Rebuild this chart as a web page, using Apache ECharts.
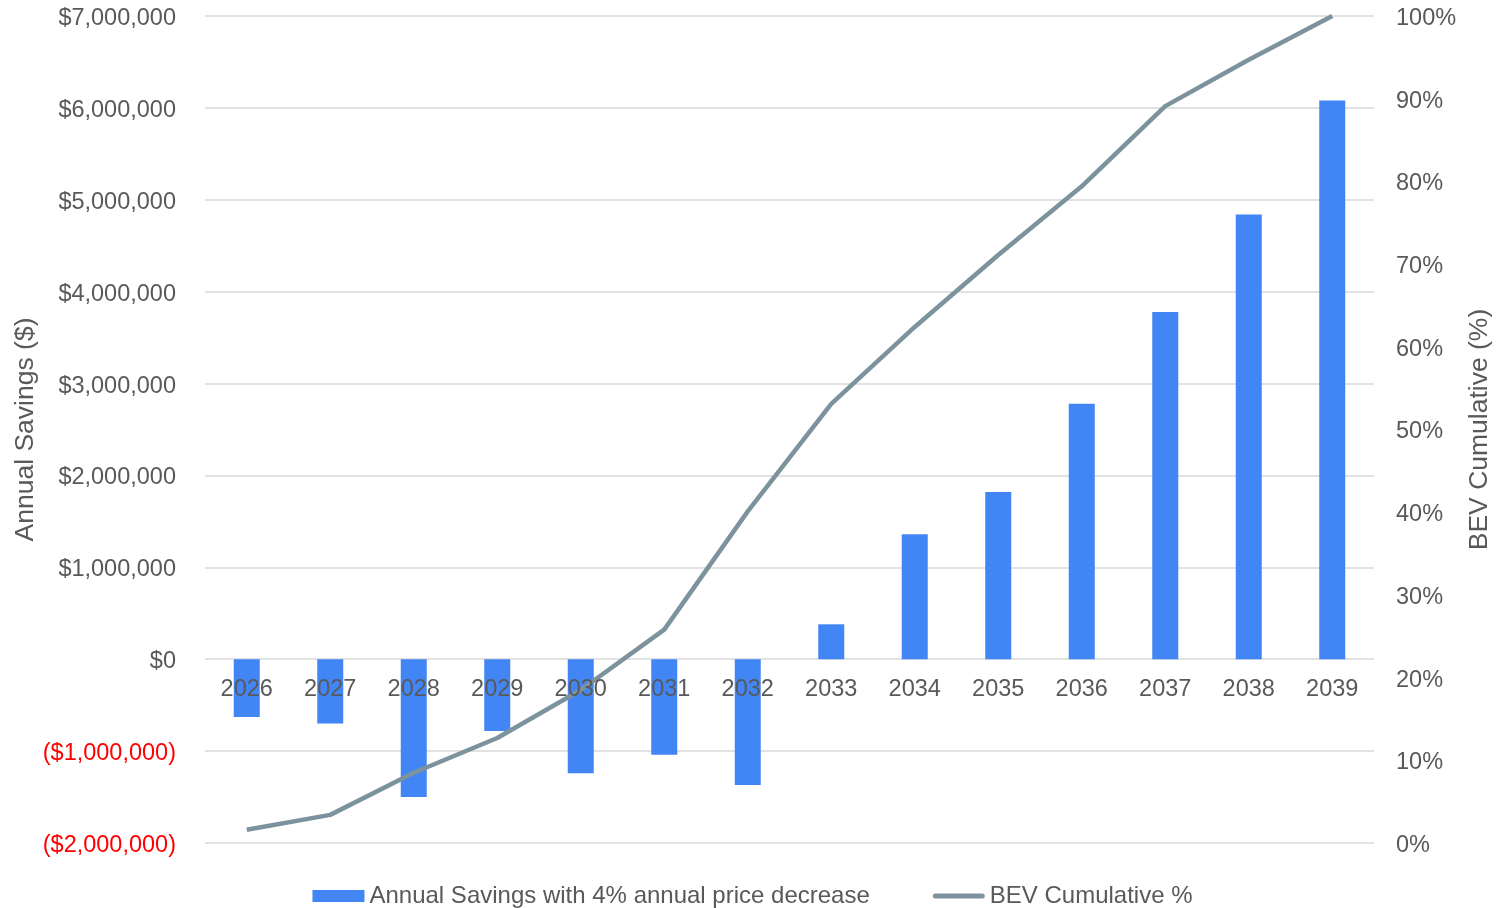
<!DOCTYPE html>
<html><head><meta charset="utf-8">
<script src="https://cdn.jsdelivr.net/npm/echarts@6/dist/echarts.min.js"></script>
<style>html,body{margin:0;padding:0;background:#fff}#c{width:1505px;height:908px}</style>
</head><body><div id="c"></div>
<script>
const years = ['2026','2027','2028','2029','2030','2031','2032','2033','2034','2035','2036','2037','2038','2039'];
const annualSavings = [-630000,-700000,-1500000,-780000,-1240000,-1040000,-1370000,380000,1360000,1820000,2780000,3780000,4840000,6080000];
const bevCumulative = [1.6,3.4,8.5,12.7,18.5,25.8,40.1,53.1,62.4,71.1,79.4,89.1,94.7,100];
const barName = 'Annual Savings with 4% annual price decrease';
const lineName = 'BEV Cumulative %';

const font = 'Liberation Sans, Arial, sans-serif';
const grey = '#595959';
function money(v){
  const s = '$' + Math.abs(v).toLocaleString('en-US');
  return v < 0 ? '(' + s + ')' : s;
}
const chart = echarts.init(document.getElementById('c'), null, {renderer:'canvas'});
chart.setOption({
  animation:false,
  textStyle:{fontFamily:font},
  grid:{left:205,right:131,top:16,bottom:65,containLabel:false,outerBoundsMode:'none'},
  legend:{
    top:879, left:'center',
    itemWidth:52, itemHeight:12, itemGap:63,
    textStyle:{color:grey,fontSize:24,fontFamily:font,padding:[0,0,0,0]},
    data:[{name:barName,icon:'rect'},
          {name:lineName,icon:'path://M2.5,0 L49.5,0 A2.5,2.5 0 0 1 49.5,5 L2.5,5 A2.5,2.5 0 0 1 2.5,0 Z'}]
  },
  xAxis:{
    type:'category', data:years, z:10, offset:-184,
    axisLine:{show:false,onZero:false},
    axisTick:{show:false},
    axisLabel:{color:grey,fontSize:23.5,fontFamily:font,margin:19}
  },
  yAxis:[{
    type:'value', min:-2000000, max:7000000, interval:1000000,
    name:'Annual Savings ($)', nameLocation:'middle', nameGap:166, nameRotate:90, nameMoveOverlap:false,
    nameTextStyle:{color:grey,fontSize:26.5,fontFamily:font},
    axisLine:{show:false,onZero:false}, axisTick:{show:false},
    splitLine:{lineStyle:{color:'#d9d9d9',width:1.5}},
    axisLabel:{fontSize:23.5,fontFamily:font,margin:29,formatter:money,verticalAlign:'top',lineHeight:5,
      color:function(v){return Number(v) < 0 ? '#ff0000' : grey;}}
  },{
    type:'value', min:0, max:100, interval:10, position:'right',
    name:'BEV Cumulative (%)', nameLocation:'middle', nameGap:92, nameRotate:90, nameMoveOverlap:false,
    nameTextStyle:{color:grey,fontSize:26.5,fontFamily:font},
    axisLine:{show:false,onZero:false}, axisTick:{show:false}, splitLine:{show:false},
    axisLabel:{color:grey,fontSize:23.5,fontFamily:font,margin:22,verticalAlign:'top',lineHeight:5,formatter:'{value}%'}
  }],
  series:[{
    name:barName, type:'bar', data:annualSavings, barWidth:26,
    itemStyle:{color:'#4285f4'}, yAxisIndex:0
  },{
    name:lineName, type:'line', data:bevCumulative, yAxisIndex:1,
    symbol:'none', lineStyle:{color:'#7c929c',width:4.5}, itemStyle:{color:'#7c929c'}, z:5
  }]
});
</script></body></html>
